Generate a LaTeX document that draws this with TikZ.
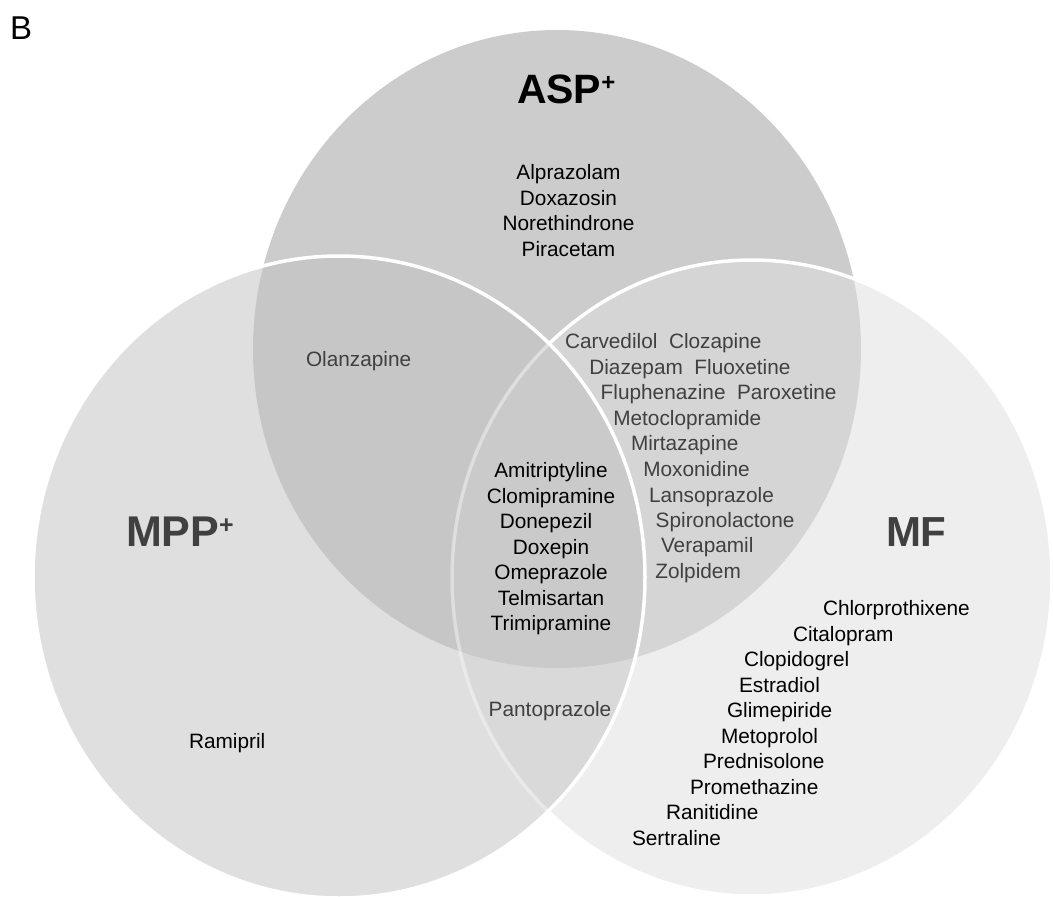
\documentclass[tikz,border=0pt]{standalone}
\usepackage{fontspec}
\setmainfont{Liberation Sans}
\definecolor{cT}{HTML}{CCCCCC}
\definecolor{cR}{HTML}{EEEEEE}
\definecolor{cL}{HTML}{DFDFDF}
\definecolor{cTR}{HTML}{D5D5D5}
\definecolor{cTL}{HTML}{C6C6C6}
\definecolor{cLR}{HTML}{D9D9D9}
\definecolor{cTLR}{HTML}{CACACA}
\definecolor{txtgray}{HTML}{404040}
\def\pT{(557,349) ellipse [x radius=304pt, y radius=319pt]}
\def\pL{(339,577) ellipse [x radius=306pt, y radius=321pt]}
\def\pR{(752,578) ellipse [x radius=300pt, y radius=318pt]}
\begin{document}
\begin{tikzpicture}[x=1pt,y=-1pt,
  every node/.style={inner sep=0pt, outer sep=0pt},
  drug/.style={font=\fontsize{20.8}{25.5}\selectfont, text=black},
  drugg/.style={drug, text=txtgray},
  setlab/.style={font=\fontsize{41}{41}\selectfont\bfseries},
  rim/.style={draw=white, line width=3.5pt}]
\useasboundingbox (0,0) rectangle (1053,897);
% fills
\fill[cT] \pT;
\fill[cR] \pR;
\begin{scope}\clip \pT; \fill[cTR] \pR; \end{scope}
\draw[rim] \pR;
\fill[cL] \pL;
\begin{scope}\clip \pL; \fill[cTL] \pT; \end{scope}
\begin{scope}\clip \pL; \fill[cLR] \pR; \end{scope}
\begin{scope}\clip \pL; \clip \pT; \fill[cTLR] \pR; \end{scope}
\begin{scope}\clip \pL; \draw[rim, draw opacity=0.4] \pR; \end{scope}
\draw[rim] \pL;
% panel letter
\node[anchor=base west, font=\fontsize{33}{33}\selectfont] (B) at (10,39) {B};
% set labels
\node[setlab, anchor=base west, text=black] (asp) at (517,103) {ASP\raisebox{13pt}{\fontsize{24}{24}\selectfont\bfseries +}};
\node[setlab, anchor=base west, text=txtgray, font=\fontsize{43}{43}\selectfont\bfseries] (mpp) at (126,546) {MPP\raisebox{13pt}{\fontsize{25}{25}\selectfont\bfseries +}};
\node[setlab, anchor=base west, text=txtgray, font=\fontsize{42}{42}\selectfont\bfseries] (mf) at (886,546) {MF};
% ASP only
\node[drug, anchor=base] (t1) at (568.5,179.3) {Alprazolam};
\node[drug, anchor=base] (t2) at (568.5,205) {Doxazosin};
\node[drug, anchor=base] (t3) at (568.5,230.7) {Norethindrone};
\node[drug, anchor=base] (t4) at (568.5,256.3) {Piracetam};
% ASP & MPP
\node[drugg, anchor=base west] (olz) at (306,366) {Olanzapine};
% ASP & MF
\node[drugg, anchor=base west] (r1) at (565,348.3) {Carvedilol\ \ Clozapine};
\node[drugg, anchor=base west] (r2) at (589.3,374) {Diazepam\ \ Fluoxetine};
\node[drugg, anchor=base west] (r3) at (600.7,399.3) {Fluphenazine\ \ Paroxetine};
\node[drugg, anchor=base west] (r4) at (613.3,425) {Metoclopramide};
\node[drugg, anchor=base west] (r5) at (631,450.7) {Mirtazapine};
\node[drugg, anchor=base west] (r6) at (643.3,476.7) {Moxonidine};
\node[drugg, anchor=base west] (r7) at (649,502) {Lansoprazole};
\node[drugg, anchor=base west] (r8) at (655.7,527.3) {Spironolactone};
\node[drugg, anchor=base west] (r9) at (661,552.7) {Verapamil};
\node[drugg, anchor=base west] (r10) at (655.3,578.3) {Zolpidem};
% all three
\node[drug, anchor=base] (c1) at (551,477.7) {Amitriptyline};
\node[drug, anchor=base] (c2) at (551,503.2) {Clomipramine};
\node[drug, anchor=base] (c3) at (546,528.7) {Donepezil};
\node[drug, anchor=base] (c4) at (551,554.2) {Doxepin};
\node[drug, anchor=base] (c5) at (551,579.7) {Omeprazole};
\node[drug, anchor=base] (c6) at (551,605.2) {Telmisartan};
\node[drug, anchor=base] (c7) at (551,630.7) {Trimipramine};
% MPP & MF
\node[drugg, anchor=base] (pan) at (550,716) {Pantoprazole};
% MPP only
\node[drug, anchor=base west] (ram) at (189,748) {Ramipril};
% MF only
\node[drug, anchor=base west] (m1) at (823,615.5) {Chlorprothixene};
\node[drug, anchor=base west] (m2) at (793,641) {Citalopram};
\node[drug, anchor=base west] (m3) at (744,666.5) {Clopidogrel};
\node[drug, anchor=base west] (m4) at (739,692) {Estradiol};
\node[drug, anchor=base west] (m5) at (727,717.5) {Glimepiride};
\node[drug, anchor=base west] (m6) at (721,743) {Metoprolol};
\node[drug, anchor=base west] (m7) at (703,768.5) {Prednisolone};
\node[drug, anchor=base west] (m8) at (690,794) {Promethazine};
\node[drug, anchor=base west] (m9) at (666,819.5) {Ranitidine};
\node[drug, anchor=base west] (m10) at (632,845) {Sertraline};
\end{tikzpicture}
\end{document}
